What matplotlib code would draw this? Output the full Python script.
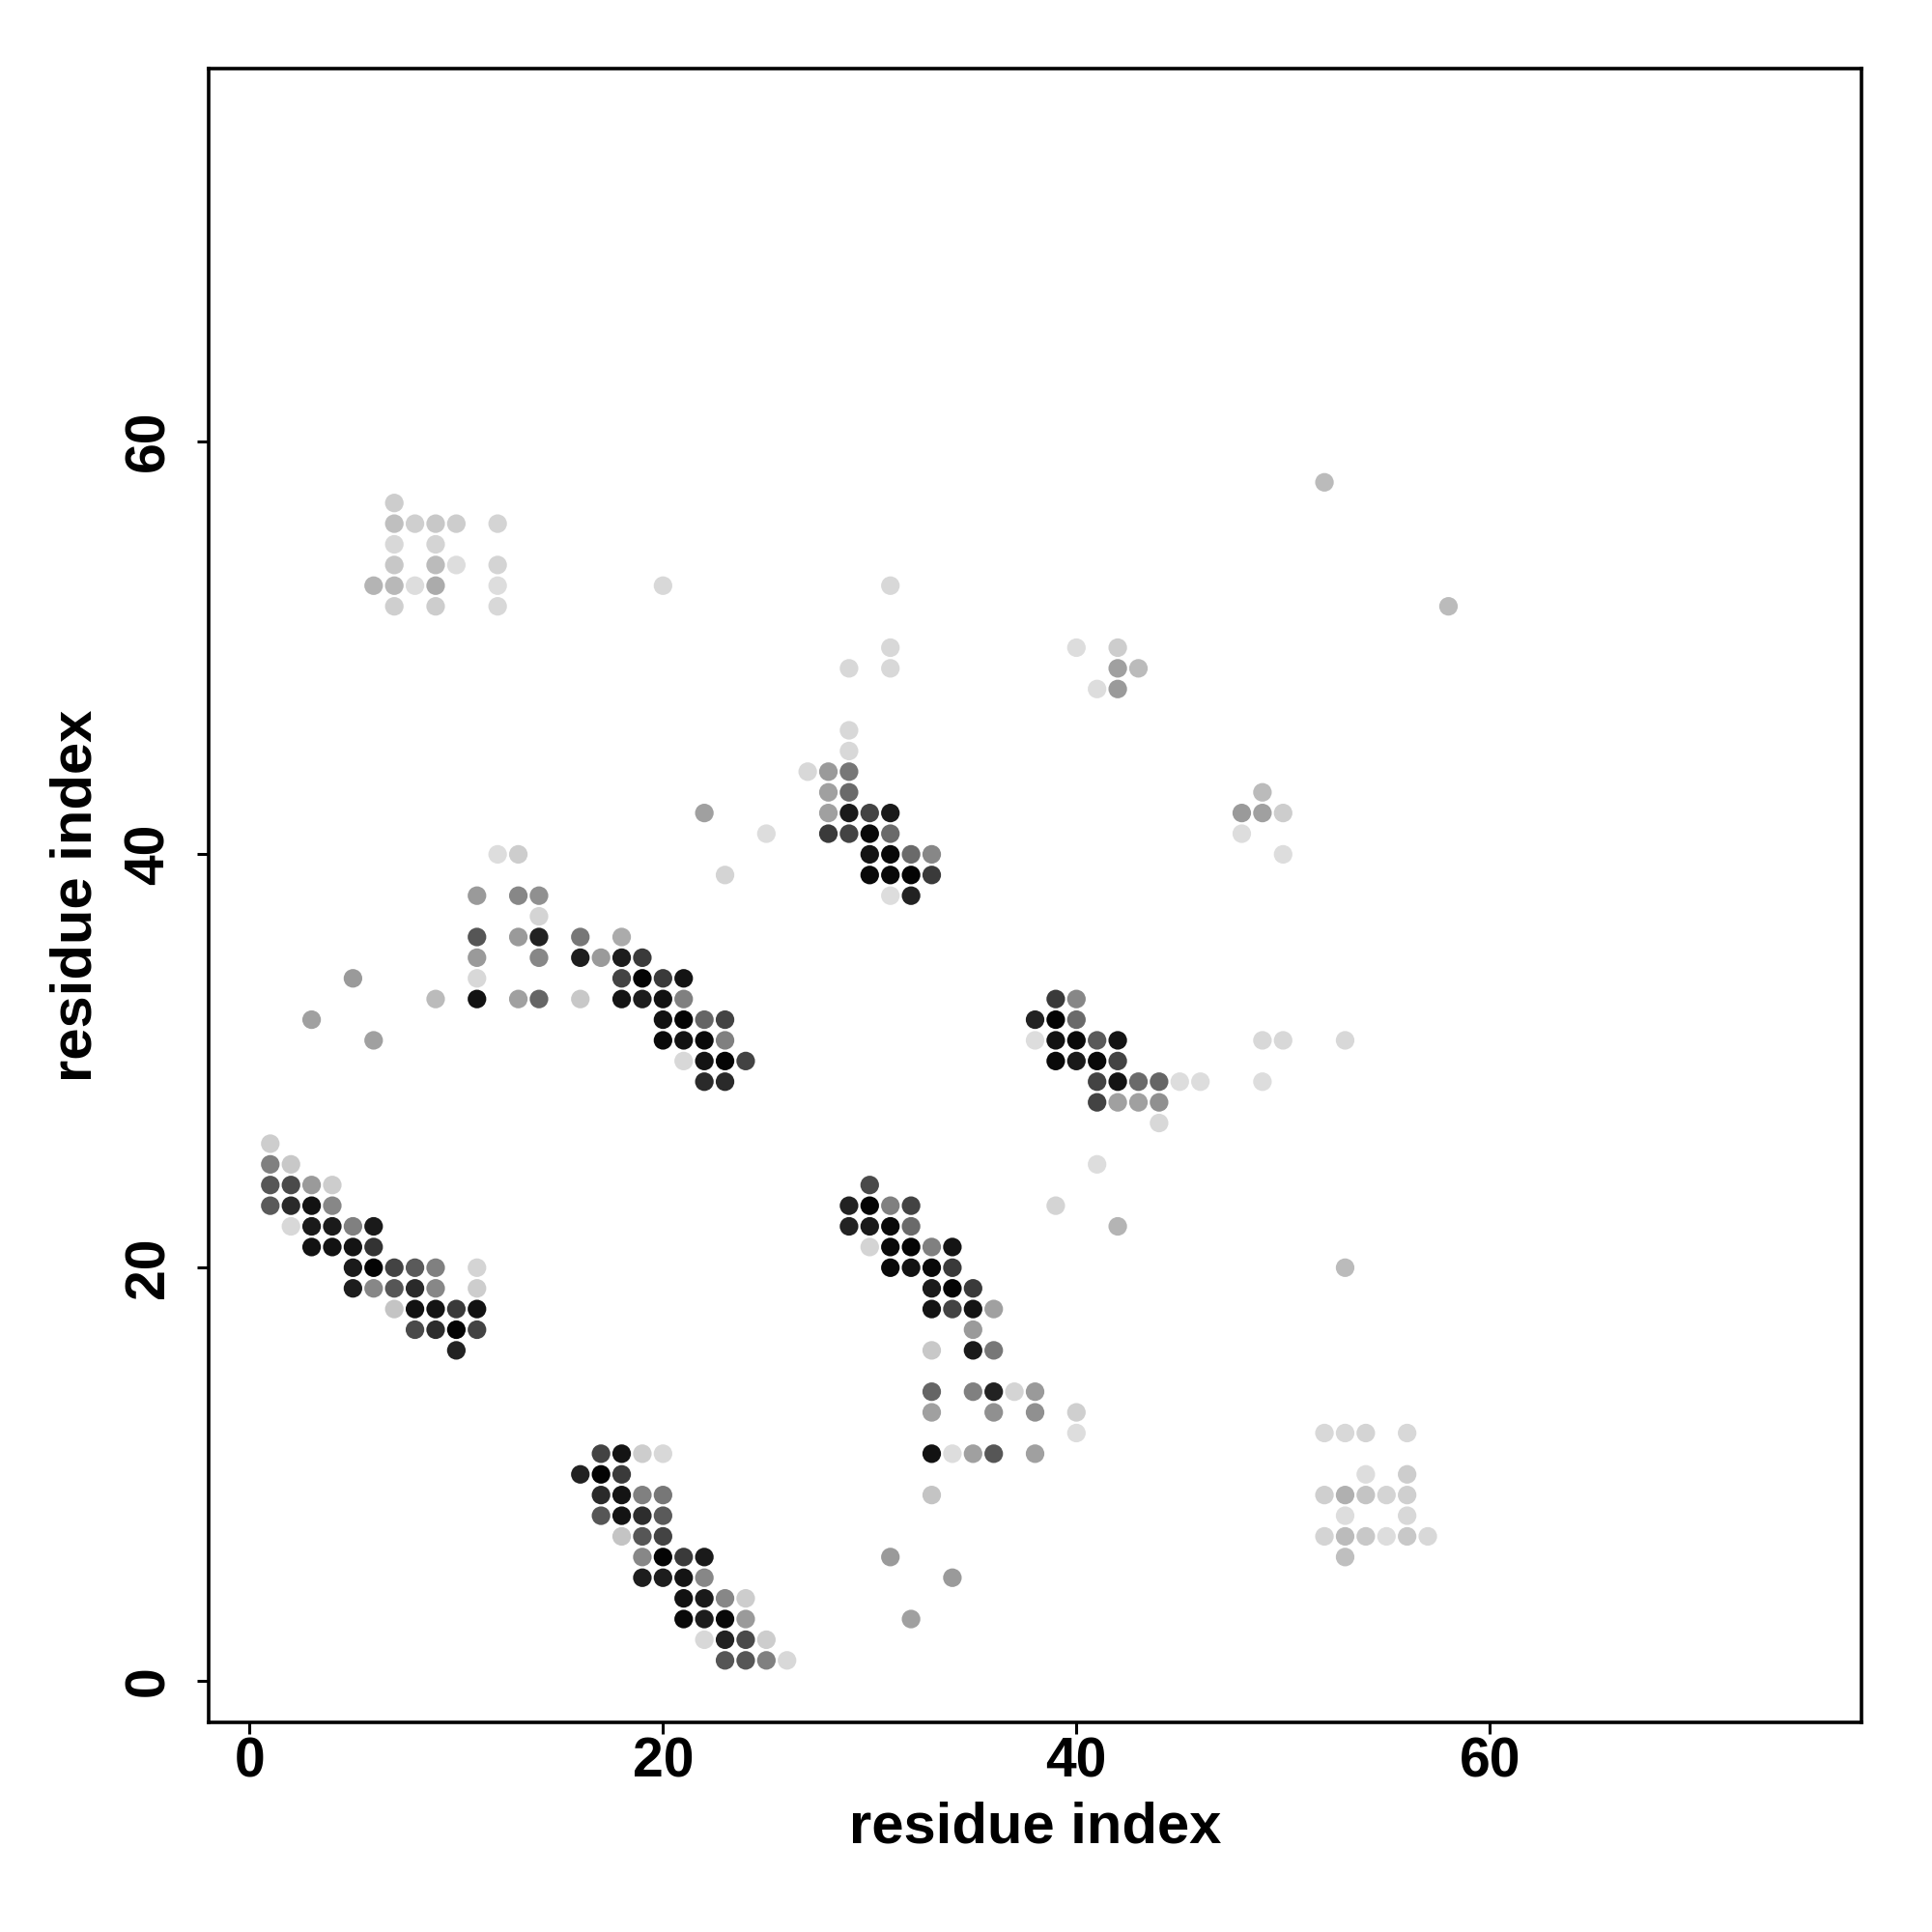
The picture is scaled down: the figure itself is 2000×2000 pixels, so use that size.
import matplotlib
matplotlib.use("Agg")
import matplotlib.pyplot as plt
from matplotlib.colors import LinearSegmentedColormap
import numpy as np

# contacts: (residue i, residue j, contact probability)
contacts_A = [(7,57,.09),
    (7,56,.15),(8,56,.08),(9,56,.11),(10,56,.09),(12,56,.06),
    (7,55,.04),(9,55,.06),
    (7,54,.12),(9,54,.17),(10,54,.02),(12,54,.06),
    (6,53,.20),(7,53,.18),(8,53,.02),(9,53,.24),(12,53,.02),
    (7,52,.08),(9,52,.09),(12,52,.04)]

contacts_B = [(1,26,.09),
    (1,25,.43),(2,25,.11),
    (1,24,.62),(2,24,.67),(3,24,.32),(4,24,.09),
    (1,23,.60),(2,23,.81),(3,23,.92),(4,23,.40),
    (2,22,.04),(3,22,.88),(4,22,.88),(5,22,.43),(6,22,.88),
    (3,21,.92),(4,21,.92),(5,21,.91),(6,21,.77),
    (5,20,.88),(6,20,.98),(7,20,.70),(8,20,.60),(9,20,.43),(11,20,.06),
    (5,19,.87),(6,19,.40),(7,19,.62),(8,19,.81),(9,19,.40),(11,19,.09),
    (7,18,.13),(8,18,.92),(9,18,.91),(10,18,.74),(11,18,.92),
    (8,17,.67),(9,17,.80),(10,17,.98),(11,17,.70),
    (10,16,.85)]

contacts_C = [(12,40,.02),(13,40,.09),
    (11,38,.32),(13,38,.40),(14,38,.36),
    (14,37,.06),
    (11,36,.62),(13,36,.32),(14,36,.85),(16,36,.47),(18,36,.24),
    (11,35,.32),(14,35,.40),(16,35,.87),(17,35,.32),(18,35,.87),(19,35,.74),
    (5,34,.32),(11,34,.04),(18,34,.70),(19,34,.98),(20,34,.74),(21,34,.91),
    (9,33,.17),(11,33,.92),(13,33,.29),(14,33,.55),(16,33,.11),(18,33,.91),(19,33,.87),(20,33,.92),(21,33,.43),
    (3,32,.29),(20,32,.92),(21,32,.98),(22,32,.55),(23,32,.70),
    (6,31,.29),(20,31,.96),(21,31,.92),(22,31,.96),(23,31,.43),
    (21,30,.04),(22,30,.91),(23,30,.98),(24,30,.70),
    (22,29,.81),(23,29,.81)]

contacts_D = [(17,11,.70),(18,11,.91),(19,11,.09),(20,11,.04),
    (16,10,.85),(17,10,.98),(18,10,.74),
    (17,9,.81),(18,9,.91),(19,9,.43),(20,9,.47),
    (17,8,.62),(18,8,.91),(19,8,.80),(20,8,.60),
    (18,7,.13),(19,7,.62),(20,7,.70),
    (19,6,.40),(20,6,.98),(21,6,.74),(22,6,.88),
    (19,5,.87),(20,5,.87),(21,5,.91),(22,5,.40),
    (21,4,.92),(22,4,.88),(23,4,.40),(24,4,.09),
    (21,3,.96),(22,3,.87),(23,3,.96),(24,3,.32),
    (22,2,.04),(23,2,.85),(24,2,.67),(25,2,.09),
    (23,1,.62),(24,1,.62),(25,1,.43),(26,1,.04)]

contacts_E = [(31,53,.04),
    (31,50,.04),(29,49,.04),(31,49,.04),
    (29,46,.04),(29,45,.04),
    (27,44,.04),(28,44,.32),(29,44,.47),
    (28,43,.29),(29,43,.53),
    (22,42,.29),(28,42,.29),(29,42,.88),(30,42,.70),(31,42,.88),
    (25,41,.02),(28,41,.74),(29,41,.70),(30,41,.96),(31,41,.53),
    (30,40,.91),(31,40,.96),(32,40,.53),(33,40,.40),
    (23,39,.06),(30,39,.96),(31,39,.96),(32,39,.98),(33,39,.74),
    (31,38,.02),(32,38,.85)]

contacts_S = [(52,58,.17),(58,52,.17),(20,53,.04),
    (40,50,.02),(42,50,.09),(42,49,.29),(43,49,.17),(41,48,.02),(42,48,.32),
    (49,43,.17),(48,42,.32),(49,42,.29),(50,42,.09),(48,41,.02),(50,40,.02)]

contacts_F = [(39,33,.74),(40,33,.40),
    (38,32,.85),(39,32,.98),(40,32,.53),
    (38,31,.02),(39,31,.92),(40,31,.96),(41,31,.60),(42,31,.91),(49,31,.04),(50,31,.04),(53,31,.04),
    (39,30,.96),(40,30,.88),(41,30,.96),(42,30,.70),
    (41,29,.70),(42,29,.91),(43,29,.53),(44,29,.55),(45,29,.02),(46,29,.02),(49,29,.02),
    (41,28,.70),(42,28,.29),(43,28,.29),(44,28,.36),
    (44,27,.04),
    (41,25,.02),(39,23,.06),(42,22,.20),(53,20,.17)]

contacts_G = [(30,24,.67),
    (29,23,.85),(30,23,.98),(31,23,.43),(32,23,.70),
    (29,22,.85),(30,22,.88),(31,22,.96),(32,22,.53),
    (30,21,.06),(31,21,.96),(32,21,.98),(33,21,.43),(34,21,.91),
    (31,20,.96),(32,20,.92),(33,20,.96),(34,20,.74),
    (33,19,.88),(34,19,.98),(35,19,.74),
    (33,18,.91),(34,18,.70),(35,18,.91),(36,18,.29),
    (35,17,.32),
    (33,16,.11),(35,16,.88),(36,16,.47),
    (33,14,.55),(35,14,.43),(36,14,.85),(37,14,.06),(38,14,.32),
    (33,13,.29),(36,13,.36),(38,13,.36),(40,13,.08),
    (40,12,.02),
    (33,11,.92),(34,11,.02),(35,11,.29),(36,11,.62),(38,11,.29),
    (33,9,.13),(31,6,.32),(34,5,.32),(32,3,.29)]

contacts_H = [(52,12,.04),(53,12,.04),(54,12,.06),(56,12,.04),
    (54,10,.02),(56,10,.09),
    (52,9,.08),(53,9,.22),(54,9,.13),(55,9,.06),(56,9,.08),
    (53,8,.02),(56,8,.04),
    (52,7,.06),(53,7,.17),(54,7,.11),(55,7,.02),(56,7,.11),(57,7,.04),
    (53,6,.15)]

axis_ticks = [0, 20, 40, 60]
axis_label = "residue index"

all_contacts = (contacts_A + contacts_B + contacts_C + contacts_D + contacts_E
                + contacts_S + contacts_F + contacts_G + contacts_H)
xi = np.array([c[0] for c in all_contacts])
yj = np.array([c[1] for c in all_contacts])
pr = np.array([c[2] for c in all_contacts])

plt.rcParams['font.family'] = ['Liberation Sans', 'DejaVu Sans']
plt.rcParams['font.weight'] = 'bold'

fig = plt.figure(figsize=(10, 10), dpi=200)
ax = fig.add_axes([0.1078, 0.1085, 0.8559, 0.8558])

cmap = LinearSegmentedColormap.from_list('grey_prob', ['#e1e1e1', '#000000'])
ax.scatter(xi, yj, c=pr, cmap=cmap, vmin=0, vmax=1, s=48, linewidths=0, zorder=3)

ax.set_xlim(-2, 78)
ax.set_ylim(-2, 78)
ax.set_xticks(axis_ticks)
ax.set_yticks(axis_ticks)
ax.tick_params(axis='both', direction='out', length=4.2, width=1.1, labelsize=20.5, color='black')
ax.tick_params(axis='x', pad=1)
ax.tick_params(axis='y', pad=8)
for lab in ax.get_yticklabels():
    lab.set_rotation(90)
    lab.set_va('center')
for lab in ax.get_xticklabels() + ax.get_yticklabels():
    lab.set_fontweight('bold')
for sp in ax.spines.values():
    sp.set_linewidth(1.3)

fig.text(0.5357, 0.054, axis_label, ha='center', va='center', fontsize=21.5, fontweight='bold')
fig.text(0.0395, 0.5364, axis_label, ha='center', va='center', rotation=90, fontsize=21.5, fontweight='bold')

fig.savefig('out.png', dpi=200, facecolor='white')
